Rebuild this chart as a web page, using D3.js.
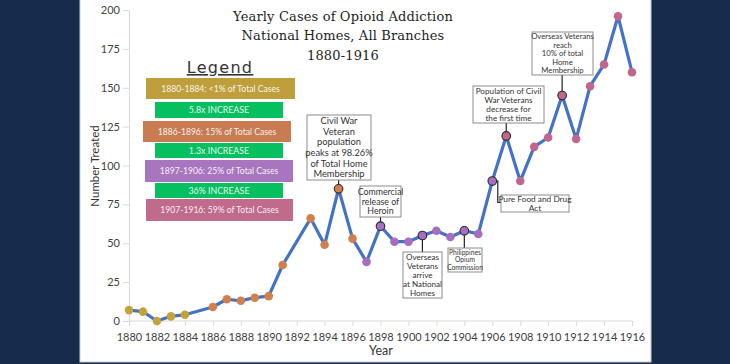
<!DOCTYPE html>
<html><head><meta charset="utf-8">
<script src="https://cdn.jsdelivr.net/npm/d3@7"></script>
<style>
html,body{margin:0;padding:0;background:#172B4D;}
svg{display:block;}
</style></head>
<body>
<svg id="chart" width="730" height="364"></svg>
<script>
// ---- data ----
const years = [1880,1881,1882,1883,1884,1886,1887,1888,1889,1890,1891,1893,1894,1895,1896,1897,1898,1899,1900,1901,1902,1903,1904,1905,1906,1907,1908,1909,1910,1911,1912,1913,1914,1915,1916];
const cases = [7,6,0,3,4,9,14,13,15,16,36,66,49,85,53,38,61,51,51,55,58,54,58,56,90,119,90,112,118,145,117,151,165,196,160];
const periodLabels = ["1880-1884: <1% of Total Cases","1886-1896: 15% of Total Cases","1897-1906: 25% of Total Cases","1907-1916: 59% of Total Cases"];
const periodStart = [1880,1886,1897,1907];
const periodEnd = [1884,1896,1906,1916];
const increaseLabels = ["5.8x INCREASE","1.3x INCREASE","36% INCREASE"];
const yTicks = [0,25,50,75,100,125,150,175,200];
const xTicks = [1880,1882,1884,1886,1888,1890,1892,1894,1896,1898,1900,1902,1904,1906,1908,1910,1912,1914,1916];
const annotYears = [1895,1898,1901,1904,1906,1907,1911];
const annotTexts = [
  ["Civil War","Veteran","population","peaks at 98.26%","of Total Home","Membership"],
  ["Commercial","release of","Heroin"],
  ["Overseas","Veterans","arrive","at National","Homes"],
  ["Philippines","Opium","Commission"],
  ["Pure Food and Drug","Act"],
  ["Population of Civil","War Veterans","decrease for","the first time"],
  ["Overseas Veterans","reach","10% of total","Home","Membership"]
];
const titleLines = ["Yearly Cases of Opioid Addiction","National Homes, All Branches","1880-1916"];

// ---- style / layout ----
const periodColors = ["#C4A43A","#D27F4E","#A66DC2","#C2678C"];
const legendFills = ["#BF9E3C","#C97B52","#A776BE","#C06A8C"];
const green = "#06BF5F";
const lineColor = "#4472C4";
const annotLayout = [
  {x:307,y:115,w:64,h:65,fs:9.3,lh:10.6,dir:"up"},
  {x:360,y:186,w:41,h:31,fs:8.8,lh:9.8,dir:"up"},
  {x:403,y:252,w:39,h:46,fs:8.1,lh:9.1,dir:"down"},
  {x:448,y:248,w:34,h:24,fs:6.7,lh:7.6,dir:"down"},
  {x:501,y:195,w:68,h:17,fs:8.3,lh:9.3,dir:"elbow"},
  {x:473,y:86,w:71,h:37,fs:8.2,lh:9.2,dir:"up"},
  {x:532,y:32,w:61,h:43,fs:7.7,lh:8.6,dir:"up"}
];

const svg = d3.select("#chart");
svg.append("rect").attr("x",0).attr("y",0).attr("width",730).attr("height",364).attr("fill","#172B4D");
svg.append("rect").attr("x",80).attr("y",-1).attr("width",571).attr("height",363)
  .attr("fill","#FFFFFF").attr("stroke","#C9CDD3").attr("stroke-width",1);

const x = d3.scaleLinear().domain([1880,1916]).range([129,632]);
const y = d3.scaleLinear().domain([0,200]).range([321,10]);

const tickFont = "Lato, 'Open Sans', sans-serif";
const yAxis = d3.axisLeft(y).tickValues(yTicks).tickSize(6).tickPadding(3).tickFormat(d3.format("d"));
const gy = svg.append("g").attr("transform","translate(129,0)").call(yAxis);
gy.select(".domain").attr("stroke","#D9D9D9");
gy.selectAll(".tick line").attr("stroke","#D9D9D9");
gy.selectAll(".tick text").attr("fill","#404040").attr("font-size",11).attr("font-family",tickFont);

const xAxis = d3.axisBottom(x).tickValues(xTicks).tickSize(5).tickPadding(7).tickFormat(d3.format("d"));
const gx = svg.append("g").attr("transform","translate(0,321)").call(xAxis);
gx.select(".domain").attr("stroke","#D9D9D9").attr("d","M129,0H632");
gx.selectAll(".tick line").attr("stroke","#D9D9D9");
gx.selectAll(".tick text").attr("fill","#404040").attr("font-size",11).attr("font-family",tickFont);

svg.append("text").attr("transform","translate(99,166) rotate(-90)").attr("text-anchor","middle")
  .attr("font-family",tickFont).attr("font-size",11.5).attr("fill","#333").text("Number Treated");
svg.append("text").attr("x",381).attr("y",355).attr("text-anchor","middle")
  .attr("font-family",tickFont).attr("font-size",12.5).attr("fill","#333").text("Year");

svg.append("g").selectAll("text").data(titleLines).join("text")
  .attr("x",343).attr("y",(d,i)=>21+i*19.3).attr("text-anchor","middle")
  .attr("font-family","'DejaVu Serif', serif").attr("font-size",13).attr("letter-spacing",0.15)
  .attr("fill","#1E1E1E").text(d=>d);

svg.append("text").attr("x",220).attr("y",73).attr("text-anchor","middle")
  .attr("font-family","'DejaVu Sans', sans-serif").attr("font-size",16).attr("letter-spacing",1.3)
  .attr("text-decoration","underline").attr("fill","#333").text("Legend");
const legBoxes = [
  {x:146,y:78,w:149,h:21},{x:143,y:121,w:148,h:21},{x:145,y:160,w:148,h:22},{x:146,y:199,w:147,h:22}
];
const greenBoxes = [{x:155,y:102,w:128,h:16},{x:155,y:143,w:128,h:15},{x:155,y:183,w:128,h:15}];
const lg = svg.append("g");
periodLabels.forEach((t,i)=>{
  const b = legBoxes[i];
  lg.append("rect").attr("x",b.x).attr("y",b.y).attr("width",b.w).attr("height",b.h).attr("fill",legendFills[i]);
  lg.append("text").attr("x",b.x+b.w/2).attr("y",b.y+b.h/2+3.1).attr("text-anchor","middle")
    .attr("font-family",tickFont).attr("font-size",8.6).attr("fill","#FFFFFF").attr("fill-opacity",0.92).text(t);
});
increaseLabels.forEach((t,i)=>{
  const b = greenBoxes[i];
  lg.append("rect").attr("x",b.x).attr("y",b.y).attr("width",b.w).attr("height",b.h).attr("fill",green);
  lg.append("text").attr("x",b.x+b.w/2).attr("y",b.y+b.h/2+3.1).attr("text-anchor","middle")
    .attr("font-family",tickFont).attr("font-size",8.8).attr("fill","#FFFFFF").attr("fill-opacity",0.92).text(t);
});

const pts = years.map((yr,i)=>({yr, v:cases[i], p: periodStart.findIndex((s,k)=> yr>=s && yr<=periodEnd[k])}));

const ag = svg.append("g");
annotYears.forEach((yr,i)=>{
  const L = annotLayout[i];
  const d = pts.find(p=>p.yr===yr);
  const px = x(d.yr), py = y(d.v);
  if(L.dir==="up"){
    ag.append("line").attr("x1",px).attr("x2",px).attr("y1",L.y+L.h).attr("y2",py).attr("stroke","#222").attr("stroke-width",1.2);
  } else if(L.dir==="down"){
    ag.append("line").attr("x1",px).attr("x2",px).attr("y1",py).attr("y2",L.y).attr("stroke","#222").attr("stroke-width",1.2);
  } else {
    const ex = px+5.5, ey = L.y+L.h/2-1;
    ag.append("path").attr("d",`M${px},${py}H${ex}V${ey}H${L.x}`).attr("fill","none").attr("stroke","#222").attr("stroke-width",1.2);
  }
});

svg.append("path").datum(pts)
  .attr("d",d3.line().x(d=>x(d.yr)).y(d=>y(d.v)))
  .attr("fill","none").attr("stroke",lineColor).attr("stroke-width",3.2).attr("stroke-linejoin","round");

svg.append("g").selectAll("circle").data(pts).join("circle")
  .attr("cx",d=>x(d.yr)).attr("cy",d=>y(d.v)).attr("r",4.3)
  .attr("fill",d=>periodColors[d.p])
  .attr("stroke",d=>annotYears.includes(d.yr)?"#2A2A2A":"none").attr("stroke-width",1.1);

const bg = svg.append("g");
annotYears.forEach((yr,i)=>{
  const L = annotLayout[i];
  const lines = annotTexts[i];
  bg.append("rect").attr("x",L.x).attr("y",L.y).attr("width",L.w).attr("height",L.h)
    .attr("fill","#FFFFFF").attr("stroke","#8C8C8C").attr("stroke-width",1);
  const startY = L.y + L.h/2 - (lines.length-1)*L.lh/2 + L.fs*0.35;
  bg.append("g").selectAll("text").data(lines).join("text")
    .attr("x",L.x+L.w/2).attr("y",(t,k)=>startY+k*L.lh).attr("text-anchor","middle")
    .attr("font-family",tickFont).attr("font-size",L.fs).attr("fill","#333").text(t=>t);
});
</script>
</body></html>
